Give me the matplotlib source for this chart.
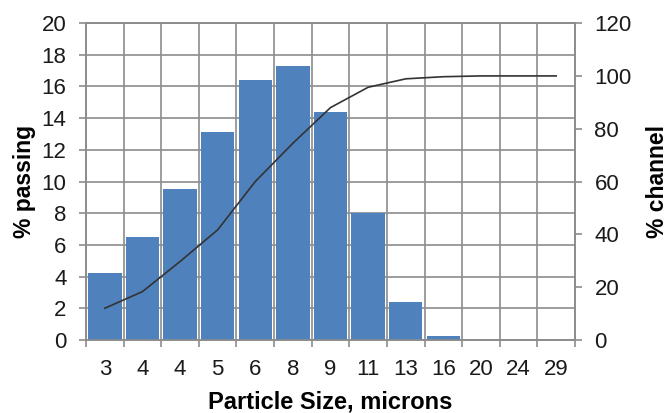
import matplotlib
matplotlib.use("Agg")
import matplotlib.pyplot as plt
import numpy as np

categories = ["3", "4", "4", "5", "6", "8", "9", "11", "13", "16", "20", "24", "29"]
channel_pct = [4.2, 6.5, 9.55, 13.1, 16.4, 17.3, 14.4, 8.0, 2.4, 0.25, 0, 0, 0]
passing_cum = [12.0, 18.3, 29.7, 41.7, 60.0, 74.5, 88.0, 95.7, 98.9, 99.7, 100, 100, 100]

plt.rcParams['font.family'] = ['Liberation Sans', 'DejaVu Sans']
grid_c = "#8c8c8c"
txt_c = "#1a1a1a"

fig = plt.figure(figsize=(6.67, 4.13), dpi=100)
ax = fig.add_axes([0.129, 0.177, 0.733, 0.767])
x = np.arange(len(categories))
ax.bar(x, channel_pct, width=0.89, color="#4F81BD", zorder=3)
ax.set_xlim(-0.5, len(categories) - 0.5)
ax.set_ylim(0, 20)
ax.set_yticks(np.arange(0, 21, 2))
ax.set_xticks(x)
ax.set_xticklabels(categories)
ax.set_xticks(np.arange(-0.5, len(categories), 1), minor=True)
ax.tick_params(axis='x', which='major', length=0, labelsize=16, pad=14, labelcolor=txt_c)
ax.tick_params(axis='x', which='minor', length=5, color=grid_c, width=1.2)
ax.tick_params(axis='y', length=5, color=grid_c, width=1.2, labelsize=16, labelcolor=txt_c, pad=9)
ax.grid(True, which='minor', axis='x', color=grid_c, linewidth=1.2, zorder=0)
ax.grid(True, which='major', axis='y', color=grid_c, linewidth=1.2, zorder=0)
for s in ax.spines.values():
    s.set_color(grid_c)
    s.set_linewidth(1.2)
ax.set_ylabel("% passing", fontsize=16.5, fontweight='bold', labelpad=4)
ax.set_xlabel("Particle Size, microns", fontsize=17, fontweight='bold', labelpad=7)

ax2 = ax.twinx()
ax2.plot(x, passing_cum, color="#333333", linewidth=1.2, zorder=5)
ax2.set_ylim(0, 120)
ax2.set_yticks(np.arange(0, 121, 20))
ax2.tick_params(axis='y', length=5, color=grid_c, width=1.2, labelsize=16, labelcolor=txt_c, pad=9)
for s in ax2.spines.values():
    s.set_color(grid_c)
    s.set_linewidth(1.2)
ax2.set_ylabel("% channel", fontsize=16.5, fontweight='bold', labelpad=10)

fig.savefig("out.png", dpi=100)
